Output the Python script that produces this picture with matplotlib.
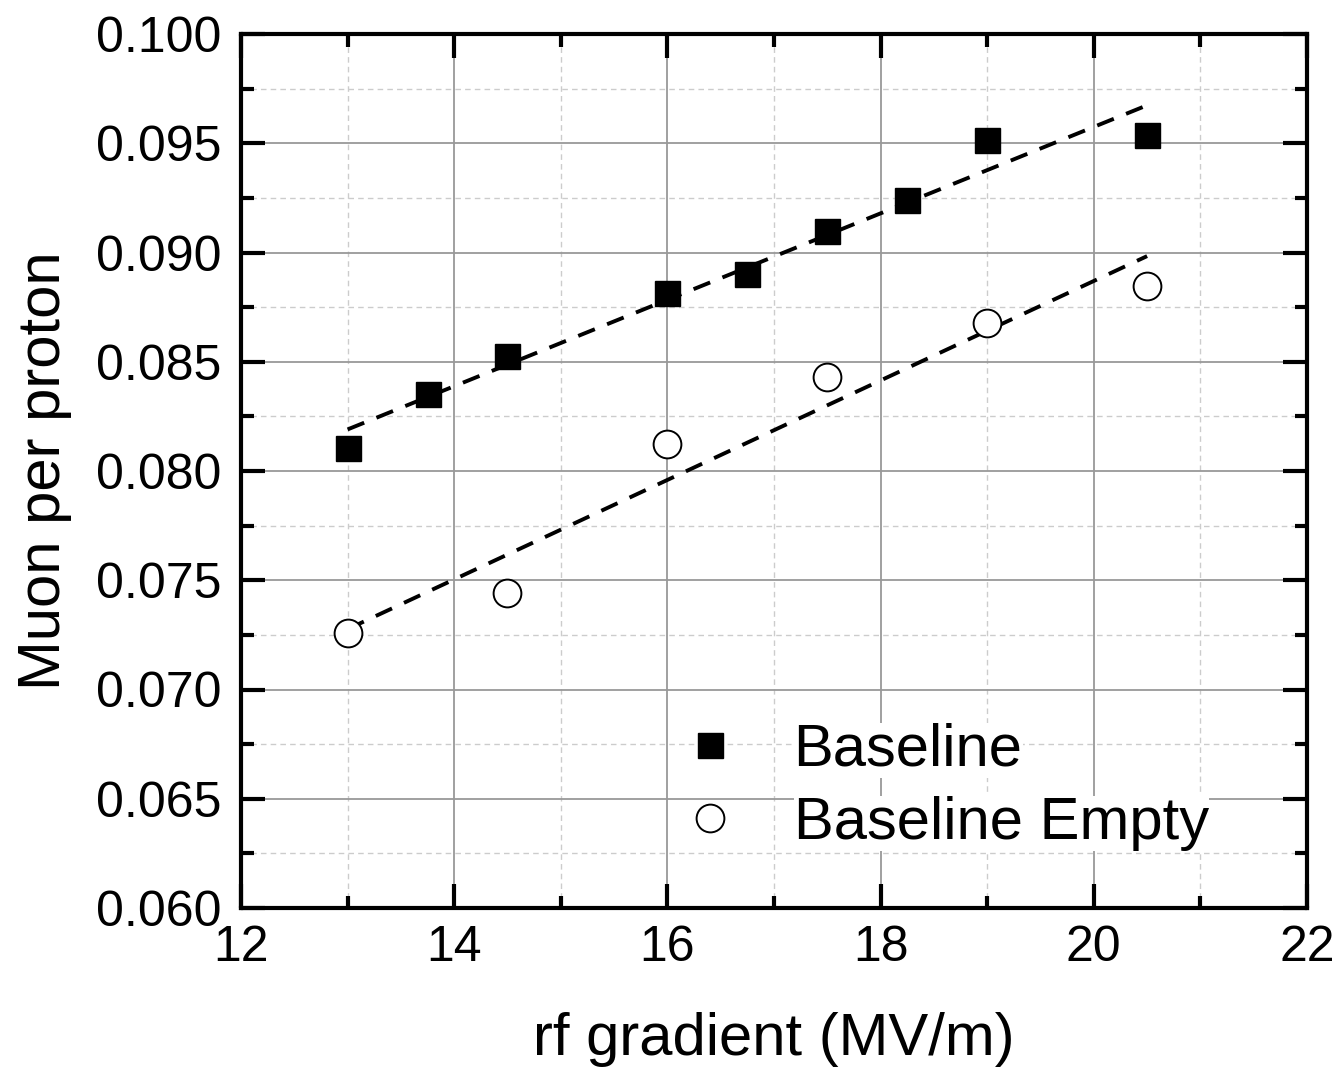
import numpy as np
import matplotlib
matplotlib.use('Agg')
import matplotlib.pyplot as plt
from matplotlib.ticker import MultipleLocator

plt.rcParams['font.family'] = ['Liberation Sans', 'DejaVu Sans']

# data
gradient_base = [13.0, 13.75, 14.5, 16.0, 16.75, 17.5, 18.25, 19.0, 20.5]
muon_base = [0.08105, 0.08352, 0.08526, 0.08815, 0.08902, 0.09098, 0.0924, 0.09515, 0.09538]

gradient_empty = [13.0, 14.5, 16.0, 17.5, 19.0, 20.5]
muon_empty = [0.07259, 0.07442, 0.08124, 0.0843, 0.08677, 0.08847]

fig = plt.figure(figsize=(13.41, 10.72), dpi=100)
ax = fig.add_axes([241/1341, 1 - 908/1072, (1307-241)/1341, (908-34)/1072])

# linear fits
for xs, ys in [(gradient_base, muon_base), (gradient_empty, muon_empty)]:
    k, b = np.polyfit(xs, ys, 1)
    xx = np.array([xs[0], xs[-1]])
    ax.plot(xx, k*xx + b, ls=(0, (4.6, 3.4)), color='black', lw=2.8, zorder=3)

ax.plot(gradient_base, muon_base, 's', ms=18, mfc='black', mec='black',
        label='Baseline', zorder=4)
ax.plot(gradient_empty, muon_empty, 'o', ms=20, mfc='white', mec='black',
        mew=1.4, label='Baseline Empty', zorder=4)

ax.set_xlim(12, 22)
ax.set_ylim(0.060, 0.100)
ax.xaxis.set_major_locator(MultipleLocator(2))
ax.xaxis.set_minor_locator(MultipleLocator(1))
ax.yaxis.set_major_locator(MultipleLocator(0.005))
ax.yaxis.set_minor_locator(MultipleLocator(0.0025))
ax.yaxis.set_major_formatter(plt.FormatStrFormatter('%.3f'))

ax.grid(which='major', color='#999999', lw=1.3, ls='-')
ax.grid(which='minor', color='#cccccc', lw=1.0, ls=(0, (4, 3)))
ax.set_axisbelow(True)

for s in ax.spines.values():
    s.set_linewidth(3)
ax.tick_params(which='both', direction='in', top=True, right=True, width=3,
               labelsize=36)
ax.tick_params(axis='y', pad=14)
ax.tick_params(axis='x', pad=12)
ax.tick_params(which='major', length=17)
ax.tick_params(which='minor', length=9)

ax.set_xlabel('rf gradient (MV/m)', fontsize=43, labelpad=30)
ax.set_ylabel('Muon per proton', fontsize=43, labelpad=17)

leg = ax.legend(loc='lower right', bbox_to_anchor=(0.947, 0.017), fontsize=43,
                frameon=False, handletextpad=0.6, borderpad=0.2,
                labelspacing=0.31, handlelength=1.6)
for t in leg.get_texts():
    t.set_bbox(dict(facecolor='white', edgecolor='none', pad=0))

fig.savefig('out.png', dpi=100)
